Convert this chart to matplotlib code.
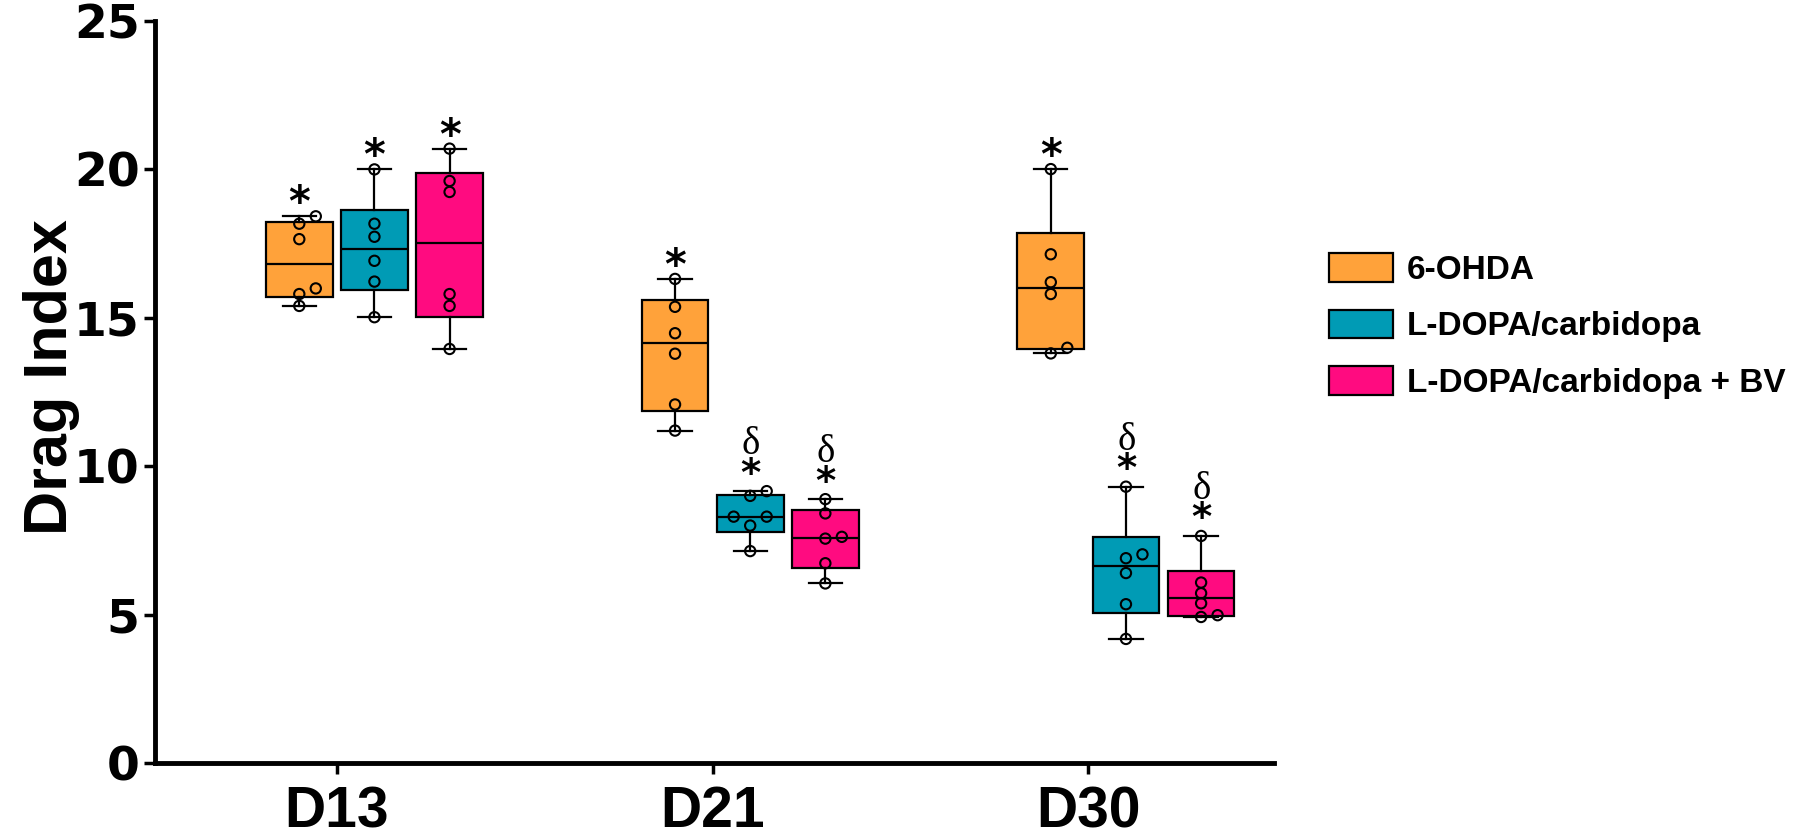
import numpy as np
import matplotlib.pyplot as plt
from matplotlib.patches import Patch

plt.rcParams["mathtext.fontset"] = "custom"
plt.rcParams["mathtext.rm"] = "Liberation Serif"

# Days and treatment groups
days = ["D13", "D21", "D30"]
groups = ["6-OHDA", "L-DOPA/carbidopa", "L-DOPA/carbidopa + BV"]
colors = ["#FFA23A", "#009BB5", "#FF0B80"]

# Individual animals, one list per day
ohda = [
    [18.42, 18.17, 17.65, 15.99, 15.80, 15.40],
    [16.31, 15.37, 14.48, 13.79, 12.08, 11.20],
    [20.01, 17.14, 16.20, 15.80, 13.99, 13.80],
]
ldopa = [
    [20.00, 18.17, 17.73, 16.92, 16.22, 15.02],
    [9.16, 9.00, 8.30, 8.30, 8.00, 7.14],
    [9.31, 7.03, 6.90, 6.40, 5.35, 4.18],
]
ldopa_bv = [
    [20.70, 19.61, 19.24, 15.80, 15.40, 13.95],
    [8.89, 8.41, 7.62, 7.56, 6.73, 6.05],
    [7.65, 6.08, 5.72, 5.38, 4.98, 4.92],
]
series = [ohda, ldopa, ldopa_bv]

# significance marks: * vs sham, delta vs 6-OHDA
star = [[True, True, True], [True, True, True], [True, True, True]]
delta = [[False, False, False], [False, True, True], [False, True, True]]

fig = plt.figure(figsize=(18, 8.38), dpi=100)
ax = fig.add_axes([155 / 1800, 1 - 763 / 838, (1274 - 155) / 1800, (763 - 21) / 838])
ax.set_xlim(-0.484, 2.494)
ax.set_ylim(0, 25)

offsets = [-0.1, 0.1, 0.3]
width = 0.1775
lw = 1.6


def spread(xc, vals, step=16.5, dmin=10.0):
    # simple swarm: push overlapping points sideways (pixel space)
    order = np.argsort(vals)
    xs = np.full(len(vals), xc, dtype=float)
    placed = []
    for i in order:
        px, py = ax.transData.transform((xc, vals[i]))
        for k in [0, 1, -1, 2, -2]:
            cx = px + k * step
            if all(np.hypot(cx - qx, py - qy) >= dmin for qx, qy in placed):
                break
        placed.append((cx, py))
        xs[i] = ax.transData.inverted().transform((cx, py))[0]
    return xs


for g, data in enumerate(series):
    stats, pos = [], []
    for d, vals in enumerate(data):
        v = np.array(vals)
        q1, med, q3 = np.percentile(v, [25, 50, 75], method="weibull")
        stats.append(dict(med=med, q1=q1, q3=q3, whislo=v.min(), whishi=v.max(), fliers=[]))
        pos.append(d + offsets[g])
    ax.bxp(stats, positions=pos, widths=width, capwidths=width * 0.5,
           patch_artist=True, showfliers=False,
           boxprops=dict(facecolor=colors[g], edgecolor="black", linewidth=lw),
           medianprops=dict(color="black", linewidth=lw),
           whiskerprops=dict(color="black", linewidth=lw),
           capprops=dict(color="black", linewidth=lw))
    for d, vals in enumerate(data):
        v = np.array(vals)
        xs = spread(pos[d], v)
        ax.scatter(xs, v, s=55, facecolors="none", edgecolors="black",
                   linewidths=1.5, zorder=4)
        top = v.max()
        if delta[g][d]:
            # delta stacked over the star in one text
            ax.annotate("$\\mathrm{δ}$\n*", (pos[d], top), xytext=(0, 4),
                        textcoords="offset points", ha="center", va="baseline",
                        fontsize=28, fontweight="bold", family="DejaVu Sans",
                        linespacing=0.78)
        elif star[g][d]:
            ax.annotate("*", (pos[d], top), xytext=(0, 0), textcoords="offset points",
                        ha="center", va="baseline", fontsize=30, fontweight="bold",
                        family="DejaVu Sans")

for side in ["top", "right"]:
    ax.spines[side].set_visible(False)
for side in ["left", "bottom"]:
    ax.spines[side].set_linewidth(3.5)

ax.set_yticks(range(0, 26, 5))
ax.tick_params(axis="y", length=8, width=2.5, pad=3)
ax.tick_params(axis="x", length=8, width=2.5, pad=8)
for lbl in ax.get_yticklabels():
    lbl.set_fontfamily("DejaVu Sans")
    lbl.set_fontweight("bold")
    lbl.set_fontsize(34)
ax.set_xticks(range(len(days)))
ax.set_xticklabels(days, fontsize=41, fontweight="bold", family="Liberation Sans")

ax.set_ylabel("Drag Index", fontsize=44, fontweight="bold", family="Liberation Sans")
ax.yaxis.set_label_coords(-0.067, 0.52)

handles = [Patch(facecolor=c, edgecolor="black", linewidth=lw) for c in colors]
fig.legend(handles, groups, loc="center left", bbox_to_anchor=(1329 / 1800, 1 - 326 / 838),
           frameon=False, prop=dict(family="Liberation Sans", weight="bold", size=24),
           handlelength=1.92, handleheight=0.96, handletextpad=0.42,
           labelspacing=0.72, borderaxespad=0, borderpad=0)

fig.savefig("out.png", dpi=100)
